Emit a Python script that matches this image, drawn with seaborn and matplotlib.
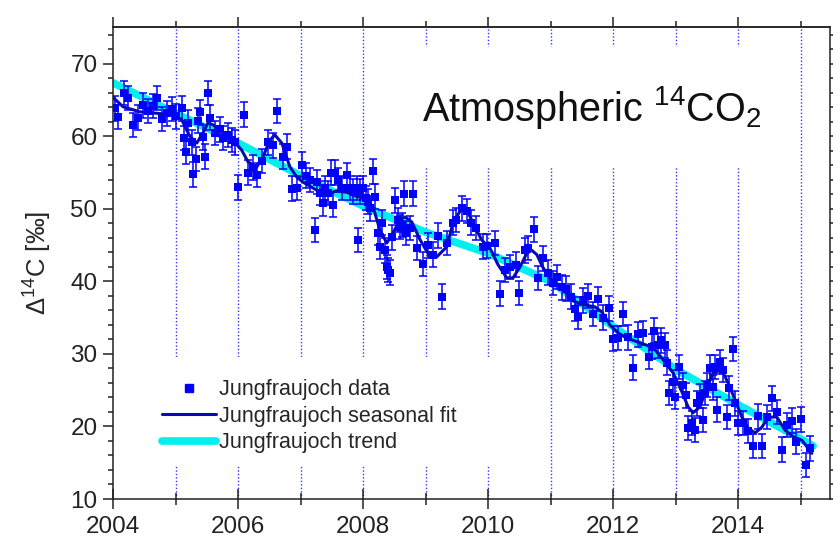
"""Atmospheric 14CO2 at Jungfraujoch: data, seasonal fit and trend."""
import matplotlib
matplotlib.use("Agg")
import matplotlib.pyplot as plt
from matplotlib.lines import Line2D
from matplotlib.patches import Rectangle
from matplotlib.ticker import MultipleLocator, NullFormatter
import seaborn as sns

DATA_YEAR = [
    2004.03, 2004.08, 2004.18, 2004.24, 2004.32, 2004.40, 2004.48, 2004.56, 2004.64, 2004.70,
    2004.78, 2004.86, 2004.94, 2005.01, 2005.10, 2005.14, 2005.17, 2005.20, 2005.26, 2005.28,
    2005.33, 2005.36, 2005.39, 2005.44, 2005.47, 2005.52, 2005.55, 2005.63, 2005.71, 2005.76,
    2005.84, 2005.90, 2005.95, 2006.00, 2006.10, 2006.16, 2006.24, 2006.30, 2006.38, 2006.48,
    2006.56, 2006.62, 2006.72, 2006.78, 2006.86, 2006.94, 2007.02, 2007.09, 2007.15, 2007.23,
    2007.26, 2007.31, 2007.36, 2007.39, 2007.44, 2007.49, 2007.52, 2007.55, 2007.60, 2007.66,
    2007.74, 2007.79, 2007.84, 2007.90, 2007.92, 2007.95, 2008.00, 2008.05, 2008.08, 2008.11,
    2008.16, 2008.19, 2008.24, 2008.27, 2008.30, 2008.35, 2008.38, 2008.40, 2008.43, 2008.46,
    2008.51, 2008.56, 2008.59, 2008.62, 2008.66, 2008.69, 2008.75, 2008.80, 2008.86, 2008.96,
    2009.04, 2009.12, 2009.20, 2009.26, 2009.34, 2009.44, 2009.49, 2009.58, 2009.66, 2009.73,
    2009.81, 2009.92, 2009.98, 2010.11, 2010.19, 2010.27, 2010.35, 2010.45, 2010.50, 2010.59,
    2010.64, 2010.74, 2010.80, 2010.88, 2010.96, 2011.04, 2011.10, 2011.18, 2011.25, 2011.33,
    2011.39, 2011.44, 2011.52, 2011.60, 2011.68, 2011.76, 2011.84, 2011.94, 2012.00, 2012.08,
    2012.16, 2012.24, 2012.32, 2012.40, 2012.48, 2012.58, 2012.62, 2012.66, 2012.72, 2012.77,
    2012.83, 2012.86, 2012.90, 2012.96, 2012.99, 2013.06, 2013.12, 2013.17, 2013.20, 2013.26,
    2013.31, 2013.34, 2013.39, 2013.44, 2013.47, 2013.50, 2013.55, 2013.60, 2013.63, 2013.66,
    2013.71, 2013.76, 2013.82, 2013.86, 2013.92, 2013.95, 2014.00, 2014.08, 2014.16, 2014.24,
    2014.32, 2014.38, 2014.46, 2014.54, 2014.62, 2014.70, 2014.78, 2014.86, 2014.93, 2015.01,
    2015.09, 2015.15,
]
DATA_D14C = [
    63.9, 62.7, 66.0, 65.3, 61.6, 62.6, 64.3, 63.5, 64.2, 65.3,
    62.4, 63.2, 63.8, 62.8, 63.9, 59.8, 57.9, 61.9, 59.2, 54.8,
    56.9, 62.2, 63.4, 59.9, 57.2, 66.0, 62.6, 60.5, 61.0, 59.8,
    60.2, 59.5, 59.2, 53.0, 63.0, 55.0, 55.7, 54.7, 56.6, 59.2,
    58.8, 63.5, 57.2, 58.6, 52.8, 52.9, 56.1, 54.6, 54.0, 47.1,
    53.7, 52.2, 50.8, 52.9, 52.2, 55.0, 50.6, 55.0, 54.0, 52.9,
    54.7, 52.9, 52.4, 52.9, 45.7, 52.4, 52.9, 51.5, 51.0, 50.1,
    55.2, 51.7, 46.7, 44.8, 48.1, 44.3, 42.0, 41.6, 41.2, 46.1,
    51.2, 48.5, 47.5, 47.8, 52.1, 46.7, 47.4, 52.1, 44.6, 42.4,
    45.0, 43.7, 46.3, 37.9, 45.3, 48.1, 48.5, 50.1, 49.7, 48.1,
    47.4, 44.8, 44.9, 45.3, 38.3, 41.6, 42.0, 42.3, 38.4, 44.3,
    44.6, 47.2, 40.5, 43.2, 41.2, 39.8, 40.6, 39.2, 39.0, 37.9,
    36.2, 35.1, 37.4, 38.0, 35.5, 37.6, 35.0, 36.3, 32.1, 32.2,
    35.5, 32.3, 28.1, 32.7, 32.9, 29.6, 31.0, 33.2, 31.2, 31.9,
    31.2, 28.8, 24.6, 26.1, 24.1, 28.2, 25.7, 24.3, 19.8, 20.5,
    19.5, 23.2, 24.2, 20.9, 24.6, 25.7, 28.1, 25.4, 28.2, 22.3,
    28.9, 27.8, 21.3, 25.3, 30.7, 23.2, 20.5, 20.5, 19.4, 17.3,
    21.4, 17.3, 21.3, 23.9, 22.0, 16.8, 20.2, 20.8, 17.9, 21.0,
    14.7, 17.0,
]
DATA_ERR = 1.7  # typical 1-sigma uncertainty (‰)

# seasonal fit curve
FIT_YEAR = [
    2004.00, 2004.16, 2004.43, 2004.70, 2004.96, 2005.10, 2005.23, 2005.34, 2005.44, 2005.52,
    2005.60, 2005.76, 2005.92, 2006.06, 2006.16, 2006.30, 2006.40, 2006.51, 2006.59, 2006.70,
    2006.83, 2006.94, 2007.04, 2007.18, 2007.31, 2007.47, 2007.58, 2007.74, 2007.90, 2008.03,
    2008.16, 2008.27, 2008.38, 2008.48, 2008.59, 2008.67, 2008.78, 2008.91, 2009.07, 2009.18,
    2009.34, 2009.44, 2009.58, 2009.66, 2009.79, 2009.90, 2010.03, 2010.16, 2010.30, 2010.40,
    2010.51, 2010.62, 2010.70, 2010.78, 2010.88, 2011.02, 2011.18, 2011.34, 2011.52, 2011.71,
    2011.82, 2011.95, 2012.08, 2012.22, 2012.38, 2012.54, 2012.67, 2012.80, 2012.96, 2013.10,
    2013.20, 2013.28, 2013.39, 2013.50, 2013.60, 2013.74, 2013.84, 2013.95, 2014.06, 2014.16,
    2014.27, 2014.38, 2014.48, 2014.62, 2014.75, 2014.88, 2015.02, 2015.12, 2015.18,
]
FIT_D14C = [
    65.4, 64.1, 63.4, 63.2, 63.0, 62.3, 60.0, 59.1, 60.5, 61.9,
    61.6, 60.5, 59.5, 58.1, 56.5, 55.8, 57.2, 59.5, 60.2, 59.1,
    55.8, 54.4, 53.7, 53.0, 52.3, 52.2, 52.5, 52.3, 51.7, 51.5,
    50.3, 47.1, 45.3, 46.7, 48.5, 48.9, 48.2, 45.8, 43.4, 43.4,
    44.8, 48.1, 50.1, 49.9, 47.5, 45.7, 44.6, 42.3, 40.5, 40.5,
    42.0, 43.9, 44.3, 43.7, 41.9, 40.2, 39.1, 37.4, 36.8, 36.5,
    35.8, 34.0, 32.9, 32.2, 31.7, 31.2, 30.6, 29.2, 27.4, 24.8,
    22.7, 21.9, 22.7, 25.4, 27.4, 27.8, 26.0, 23.7, 21.3, 19.8,
    19.1, 19.9, 21.3, 21.3, 19.5, 18.6, 18.1, 17.0, 16.3,
]

# long-term trend
TREND_YEAR = [2004.0, 2005.0, 2006.0, 2007.0, 2008.0, 2009.0, 2010.0,
              2011.0, 2012.0, 2013.0, 2014.0, 2015.0, 2015.2]
TREND_D14C = [67.4, 63.2, 59.1, 54.6, 50.4, 46.8, 43.9,
              40.0, 33.8, 27.9, 23.0, 18.3, 17.3]

BLUE = "#0000ff"
FIT_BLUE = "#0a0ab4"
CYAN = "#00f0f0"
FONT = "Liberation Sans"

sns.set_theme(style="ticks")
plt.rcParams.update({
    "font.family": [FONT, "DejaVu Sans"],
    "mathtext.fontset": "custom",
    "mathtext.rm": FONT,
    "mathtext.it": FONT,
    "mathtext.bf": FONT,
    "mathtext.default": "rm",
    "axes.edgecolor": "#222222",
    "axes.linewidth": 1.1,
    "xtick.color": "#222222",
    "ytick.color": "#222222",
})

fig = plt.figure(figsize=(8.33, 5.37), dpi=100)
ax = fig.add_axes([113 / 833, 1 - 499 / 537, (830 - 113) / 833, (499 - 27) / 537])

# dotted year grid
for yr in range(2005, 2016):
    ax.axvline(yr, color="#3535ff", lw=1.0, ls=(0, (1, 1.5)), zorder=0.5)

# white panels behind title and legend (they blank the grid)
ax.add_patch(Rectangle((2008.83, 55.8), 5.68, 16.5, facecolor="white",
                       edgecolor="none", zorder=1))
ax.add_patch(Rectangle((2004.59, 14.7), 5.6, 14.9, facecolor="white",
                       edgecolor="none", zorder=1))

sns.lineplot(x=TREND_YEAR, y=TREND_D14C, ax=ax, color=CYAN, lw=5.5,
             zorder=2, estimator=None, sort=False)
ax.errorbar(DATA_YEAR, DATA_D14C, yerr=DATA_ERR, fmt="none", ecolor=BLUE,
            elinewidth=1.1, capsize=3.2, capthick=1.1, zorder=3)
sns.lineplot(x=FIT_YEAR, y=FIT_D14C, ax=ax, color=FIT_BLUE, lw=2.2,
             zorder=4, estimator=None, sort=False)
sns.scatterplot(x=DATA_YEAR, y=DATA_D14C, ax=ax, color=BLUE, marker="s",
                s=30, edgecolor=BLUE, linewidth=0, zorder=5)

ax.set_xlim(2004, 2015.47)
ax.set_ylim(10, 75.1)
ax.xaxis.set_major_locator(MultipleLocator(2))
ax.xaxis.set_minor_locator(MultipleLocator(1))
ax.yaxis.set_major_locator(MultipleLocator(10))
ax.yaxis.set_minor_locator(MultipleLocator(2))

ax.tick_params(axis="x", which="major", direction="inout", length=15, width=1.1,
               labelsize=17.5, pad=5, top=False)
ax.tick_params(axis="x", which="minor", direction="inout", length=8.5, width=1.1, top=False)
ax.tick_params(axis="y", which="major", direction="out", length=7.2, width=1.1,
               labelsize=17.5, pad=4, right=True)
ax.tick_params(axis="y", which="minor", direction="out", length=3.6, width=1.1, right=True)

# top axis: outward ticks only, no labels
top = ax.secondary_xaxis("top")
top.xaxis.set_major_locator(MultipleLocator(2))
top.xaxis.set_minor_locator(MultipleLocator(1))
top.xaxis.set_major_formatter(NullFormatter())
top.tick_params(which="major", direction="out", length=7.2, width=1.1)
top.tick_params(which="minor", direction="out", length=4.5, width=1.1)

ax.set_ylabel("Δ$^{14}$C [‰]", fontsize=18.5, labelpad=12)
ax.set_xlabel("")

ax.text(2011.65, 64.0, "Atmospheric $^{14}$CO$_2$", fontsize=28.5,
        ha="center", va="center", color="#111111", zorder=6)

handles = [
    Line2D([], [], ls="none", marker="s", ms=6, color=BLUE),
    Line2D([], [], color=FIT_BLUE, lw=2.2),
    Line2D([], [], color=CYAN, lw=5.5),
]
labels = ["Jungfraujoch data", "Jungfraujoch seasonal fit", "Jungfraujoch trend"]
leg = ax.legend(handles, labels, loc="lower left", bbox_to_anchor=(0.05, 0.07),
                fontsize=15.5, frameon=False, handlelength=2.5,
                handletextpad=0.15, labelspacing=0.25, borderpad=0.6,
                borderaxespad=0)
leg.set_zorder(7)

fig.savefig("out.png", dpi=100)
